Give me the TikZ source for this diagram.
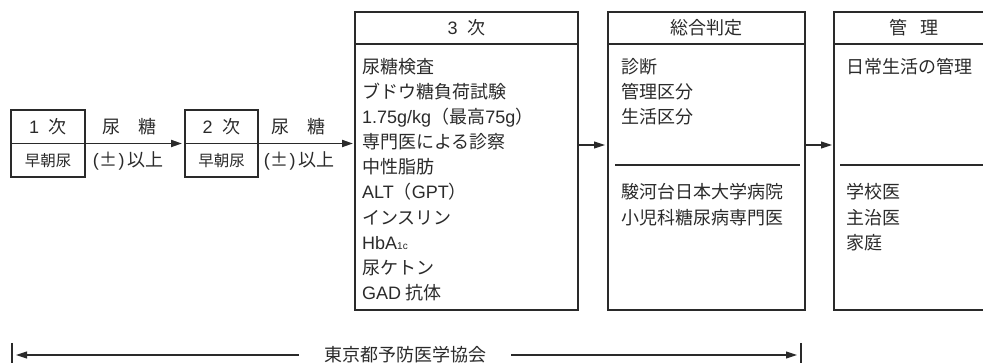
\documentclass[tikz,border=0pt]{standalone}
\usepackage{fontspec}
\setmainfont{Noto Sans CJK JP}
\newfontfamily\lat{Liberation Sans}
\usetikzlibrary{arrows.meta}
\definecolor{ink}{HTML}{2A2A2A}
\begin{document}
\begin{tikzpicture}[x=1pt,y=-1pt,
  box/.style={draw=ink, line width=1.1pt, inner sep=0pt, outer sep=0pt, anchor=north west},
  big/.style={font=\fontsize{18}{18}\selectfont, text=ink, inner sep=0pt},
  small/.style={font=\fontsize{15.5}{15.5}\selectfont, text=ink, inner sep=0pt},
  item/.style={big, anchor=base west},
  midline/.style={draw=ink, line width=1.9pt},
  divline/.style={draw=ink, line width=1.1pt},
  arr/.style={draw=ink, line width=1.1pt, -{Triangle[length=11pt,width=7pt]}},
  thickarr/.style={draw=ink, line width=1.9pt, -{Triangle[length=11pt,width=7pt]}}]
\useasboundingbox (0,0) rectangle (983,363);
\clip (0,0) rectangle (983,363);

% stage 1 and 2 small boxes
\node[box, minimum width=74pt, minimum height=67pt] (s1) at (11,110) {};
\node[box, minimum width=73pt, minimum height=67pt] (s2) at (185,110) {};
\node[big] (s1h) at (48,127) {{\lat 1}\hspace{0.55em}次};
\node[small] (s1b) at (48,161) {早朝尿};
\node[big] (u1h) at (129,127) {尿　糖};
\node[big] (u1b) at (128,161) {{\lat(}\hspace{0.05em}±\hspace{0.05em}{\lat)}\hspace{0.15em}以上};
\node[big] (s2h) at (221.5,127) {{\lat 2}\hspace{0.55em}次};
\node[small] (s2b) at (221.5,161) {早朝尿};
\node[big] (u2h) at (298,127) {尿　糖};
\node[big] (u2b) at (299,161) {{\lat(}\hspace{0.05em}±\hspace{0.05em}{\lat)}\hspace{0.15em}以上};

% large boxes
\node[box, minimum width=223pt, minimum height=298pt] (b3) at (355,12) {};
\node[box, minimum width=197pt, minimum height=298pt] (b4) at (608,12) {};
\node[box, minimum width=160pt, minimum height=298pt] (b5) at (834,12) {};

\draw[midline] ([yshift=-32pt]b3.north west) -- ([yshift=-32pt]b3.north east);
\draw[midline] ([yshift=-32pt]b4.north west) -- ([yshift=-32pt]b4.north east);
\draw[midline] ([yshift=-32pt]b5.north west) -- ([yshift=-32pt]b5.north east);
\draw[divline] ([xshift=7pt,yshift=-153pt]b4.north west) -- ([xshift=-5pt,yshift=-153pt]b4.north east);
\draw[divline] ([xshift=6pt,yshift=-153pt]b5.north west) -- ([yshift=-153pt]b5.north east);

\node[big] (h3) at (466.5,28) {{\lat 3}\hspace{0.55em}次};
\node[big] (h4) at (706.5,28) {総合判定};
\node[big] (h5) at (914,28) {管\hspace{0.75em}理};

% 3rd stage items
\node[item] (i1) at (362,73.5) {尿糖検査};
\node[item] (i2) at (362,98.6) {ブドウ糖負荷試験};
\node[item] (i3) at (362,123.7) {{\lat 1.75g/kg}（最高{\lat 75g}）};
\node[item] (i4) at (362,148.8) {専門医による診察};
\node[item] (i5) at (362,173.9) {中性脂肪};
\node[item] (i6) at (362,199) {{\lat ALT}（{\lat GPT}）};
\node[item] (i7) at (362,224.1) {インスリン};
\node[item] (i8) at (362,249.2) {{\lat HbA{\fontsize{10}{10}\selectfont 1c}}};
\node[item] (i9) at (362,274.3) {尿ケトン};
\node[item] (i10) at (362,299.4) {{\lat GAD} 抗体};

% judgement items
\node[item] (j1) at (621,73.5) {診断};
\node[item] (j2) at (621,98.6) {管理区分};
\node[item] (j3) at (621,123.7) {生活区分};
\node[item] (j4) at (621,199) {駿河台日本大学病院};
\node[item] (j5) at (621,224.1) {小児科糖尿病専門医};

% management items
\node[item] (k1) at (846,73.5) {日常生活の管理};
\node[item] (k2) at (846,199) {学校医};
\node[item] (k3) at (846,224.1) {主治医};
\node[item] (k4) at (846,249.2) {家庭};

% connectors
\draw[thickarr, shorten >=3pt] (s1.west) -- (s2.west);
\draw[thickarr, shorten >=2pt] (s2.west) -- (b3.west |- s2.west);
\draw[arr, shorten >=3pt] ([yshift=16pt]b3.east) -- ([yshift=16pt]b4.west);
\draw[arr, shorten >=2pt] ([yshift=16pt]b4.east) -- ([yshift=16pt]b5.west);

% bottom span
\coordinate (barL) at (12,355);
\coordinate (barR) at (801,355);
\draw[divline] (12,343) -- (12,366);
\draw[divline] (801,343) -- (801,366);
\node[big, inner xsep=25pt] (org) at (405,355) {東京都予防医学協会};
\draw[arr, shorten >=4pt] (org) -- (barL);
\draw[arr, shorten >=4pt] (org) -- (barR);
\end{tikzpicture}
\end{document}
